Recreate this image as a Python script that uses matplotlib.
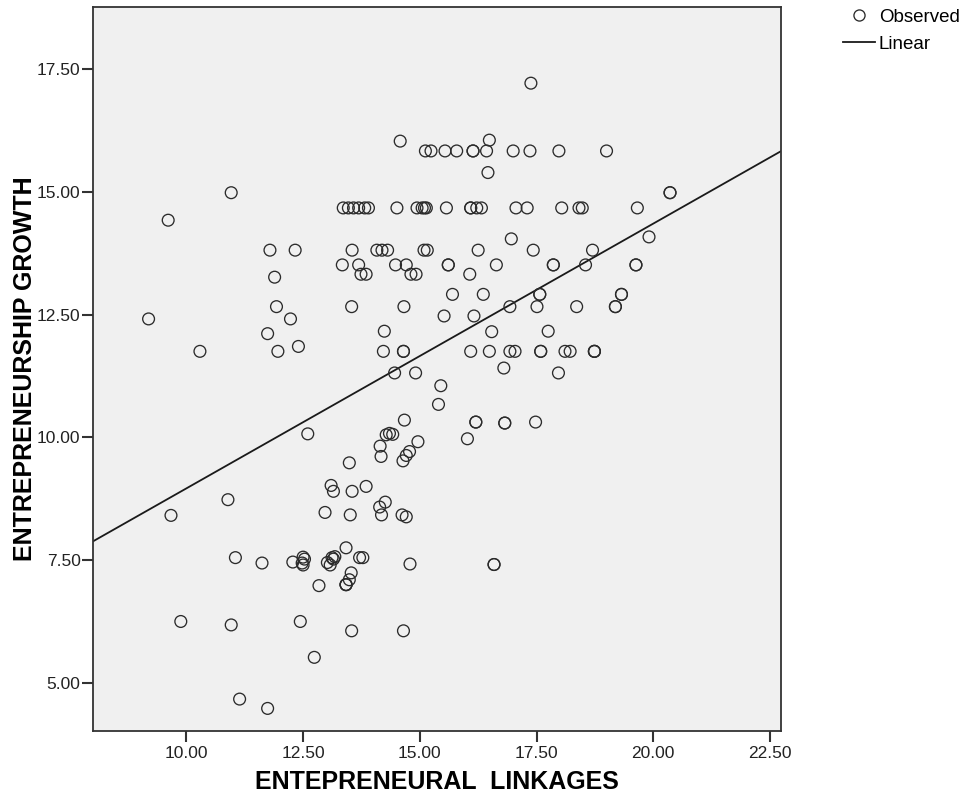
import numpy as np
import matplotlib
matplotlib.use('Agg')
import matplotlib.pyplot as plt
from matplotlib.lines import Line2D

plt.rcParams['font.family'] = ['Liberation Sans', 'DejaVu Sans']

linkages = [
    17.38, 14.58, 16.49,
    15.12, 15.24, 15.54, 15.79, 16.14, 16.14, 16.43, 17.00, 17.36, 17.98, 19.00,
    16.46, 10.96, 20.36, 20.36,
    13.36, 13.47, 13.58, 13.69, 13.82, 13.90, 14.51, 14.94, 15.05, 15.10, 15.14,
    15.57, 16.09, 16.09, 16.22, 16.32, 17.06, 17.30, 18.04, 18.41, 18.48, 19.66,
    9.61, 19.91, 16.96,
    11.79, 12.33, 13.55, 14.08, 14.19, 14.31, 15.09, 15.16, 16.25, 17.43, 18.70,
    13.34, 13.69, 14.48, 14.71, 15.61, 15.61, 16.64, 17.86, 17.86, 18.55, 19.63, 19.63,
    13.74, 13.85, 14.81, 14.92, 16.07, 11.89,
    15.70, 16.36, 17.57, 17.57, 19.32, 19.32,
    11.93, 13.54, 14.66, 16.93, 17.51, 18.36, 19.19, 19.19,
    15.52, 16.16, 9.19, 12.23,
    14.24, 11.74, 16.54, 17.75, 12.40,
    10.29, 11.96, 14.22, 14.65, 14.65, 16.09, 16.49, 16.93, 17.04, 17.59, 17.59,
    18.11, 18.22, 18.74, 18.74, 18.74,
    16.80, 14.46, 14.91, 17.97, 15.45, 15.40, 14.67,
    16.20, 16.20, 16.82, 16.82, 17.48,
    12.60, 14.28, 14.35, 14.42, 16.02,
    14.96, 14.15, 14.78, 14.71, 14.17, 14.64, 13.49,
    13.10, 13.85, 13.15, 13.55,
    10.89, 14.26, 14.14,
    12.97, 9.67, 13.51, 14.18, 14.62, 14.71,
    13.42, 11.05, 13.71, 13.78,
    11.62, 12.28, 12.50, 12.53, 12.48, 12.50,
    13.02, 13.08, 13.12, 13.18, 13.15,
    14.79, 16.59, 16.59,
    13.53, 13.49, 13.42, 13.42, 13.42, 12.84,
    9.88, 12.44, 10.96, 13.54, 14.65,
    12.74, 11.14, 11.74,
]
growth = [
    17.21, 16.03, 16.05,
    15.83, 15.83, 15.83, 15.83, 15.83, 15.83, 15.83, 15.83, 15.83, 15.83, 15.83,
    15.39, 14.98, 14.98, 14.98,
    14.67, 14.67, 14.67, 14.67, 14.67, 14.67, 14.67, 14.67, 14.67, 14.67, 14.67,
    14.67, 14.67, 14.67, 14.67, 14.67, 14.67, 14.67, 14.67, 14.67, 14.67, 14.67,
    14.42, 14.08, 14.04,
    13.81, 13.81, 13.81, 13.81, 13.81, 13.81, 13.81, 13.81, 13.81, 13.81, 13.81,
    13.51, 13.51, 13.51, 13.51, 13.51, 13.51, 13.51, 13.51, 13.51, 13.51, 13.51, 13.51,
    13.32, 13.32, 13.32, 13.32, 13.32, 13.26,
    12.91, 12.91, 12.91, 12.91, 12.91, 12.91,
    12.66, 12.66, 12.66, 12.66, 12.66, 12.66, 12.66, 12.66,
    12.47, 12.47, 12.41, 12.41,
    12.16, 12.11, 12.15, 12.16, 11.85,
    11.75, 11.75, 11.75, 11.75, 11.75, 11.75, 11.75, 11.75, 11.75, 11.75, 11.75,
    11.75, 11.75, 11.75, 11.75, 11.75,
    11.41, 11.31, 11.31, 11.31, 11.05, 10.67, 10.35,
    10.31, 10.31, 10.29, 10.29, 10.31,
    10.07, 10.05, 10.08, 10.06, 9.97,
    9.91, 9.82, 9.71, 9.63, 9.61, 9.52, 9.48,
    9.02, 9.00, 8.90, 8.90,
    8.73, 8.68, 8.58,
    8.47, 8.41, 8.42, 8.42, 8.42, 8.38,
    7.75, 7.55, 7.55, 7.55,
    7.44, 7.46, 7.56, 7.52, 7.44, 7.40,
    7.45, 7.40, 7.55, 7.57, 7.52,
    7.42, 7.41, 7.41,
    7.24, 7.10, 7.00, 7.00, 7.00, 6.98,
    6.25, 6.25, 6.18, 6.06, 6.06,
    5.52, 4.67, 4.48,
]

# linear fit line as drawn in the picture
fit_intercept = 3.57
fit_slope = 0.539

x_ticks = [10.0, 12.5, 15.0, 17.5, 20.0, 22.5]
y_ticks = [5.0, 7.5, 10.0, 12.5, 15.0, 17.5]

fig = plt.figure(figsize=(9.67, 8.09), dpi=100)
ax = fig.add_axes([0.0962, 0.0964, 0.7111, 0.8949])
ax.set_facecolor('#f0f0f0')

ax.scatter(linkages, growth, s=72, facecolors='none', edgecolors='#2b2b2b', linewidths=0.95, zorder=3)

xl = (8.0, 22.73)
xs = np.array(xl)
ax.plot(xs, fit_intercept + fit_slope * xs, color='#1a1a1a', lw=1.3, zorder=2)

ax.set_xlim(*xl)
ax.set_ylim(4.02, 18.76)
ax.set_xticks(x_ticks)
ax.set_yticks(y_ticks)
ax.set_xticklabels(['%.2f' % v for v in x_ticks])
ax.set_yticklabels(['%.2f' % v for v in y_ticks])
ax.tick_params(axis='both', direction='out', length=8, width=1.5, color='#333333',
               labelsize=12.5, labelcolor='#222222')
ax.tick_params(axis='x', pad=3)
ax.tick_params(axis='y', pad=1)
for sp in ax.spines.values():
    sp.set_color('#333333')
    sp.set_linewidth(1.3)

ax.set_xlabel('ENTEPRENEURAL  LINKAGES', fontsize=18, fontweight='bold', labelpad=6)
ax.set_ylabel('ENTREPRENEURSHIP GROWTH', fontsize=18, fontweight='bold', labelpad=0)

handles = [
    Line2D([], [], marker='o', ls='none', markersize=8, markerfacecolor='none',
           markeredgecolor='#2b2b2b', markeredgewidth=0.95),
    Line2D([], [], color='#1a1a1a', lw=1.3),
]
fig.legend(handles, ['Observed', 'Linear'], loc='upper left', bbox_to_anchor=(0.868, 0.994),
           frameon=False, fontsize=13.5, handlelength=1.7, handletextpad=0.2, labelspacing=0.52,
           borderpad=0.2, borderaxespad=0)

fig.savefig('out.png', dpi=100)
